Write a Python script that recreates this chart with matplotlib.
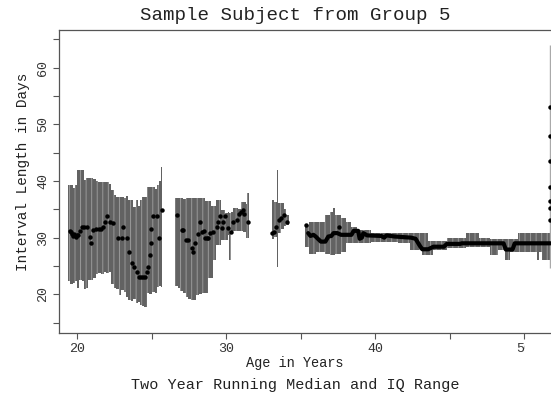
import matplotlib
matplotlib.use('Agg')
import matplotlib.pyplot as plt
from matplotlib.patches import Rectangle
from matplotlib.ticker import MultipleLocator

plt.rcParams['font.family'] = ['Liberation Mono', 'DejaVu Sans Mono']
plt.rcParams['hatch.linewidth'] = 0.7

# IQ range bars: start age, end age, lower quartile, upper quartile
iq_start = [19.42, 19.55, 19.70, 19.85, 20.00, 20.12, 20.30, 20.48, 20.62, 20.76,
            20.92, 21.10, 21.25, 21.42, 21.60, 21.78, 21.95, 22.12, 22.30, 22.45,
            22.60, 22.78, 22.95, 23.12, 23.30, 23.45, 23.62, 23.78, 23.92, 24.08,
            24.22, 24.36, 24.52, 24.68, 24.85, 25.02, 25.20, 25.38, 25.52, 25.62,
            26.55, 26.75, 26.92, 27.10, 27.28, 27.45, 27.62, 27.80, 27.98, 28.15,
            28.35, 28.55, 28.75, 28.95, 29.15, 29.30, 29.45, 29.62, 29.80, 29.95,
            30.10, 30.22, 30.30, 30.45, 30.62, 30.80, 30.98, 31.15, 31.30, 31.40,
            33.05, 33.22, 33.40, 33.48, 33.65, 33.85, 34.00,
            35.30, 35.55, 36.00, 36.60, 36.95, 37.15, 37.30, 37.70, 38.05, 38.40,
            38.75, 39.70, 41.50, 42.35, 43.10, 43.50, 43.90, 44.80, 46.05, 46.95,
            47.70, 48.20, 48.70, 49.06, 49.60, 50.85, 50.95, 51.20]
iq_end = [19.55, 19.70, 19.85, 20.00, 20.12, 20.30, 20.48, 20.62, 20.76, 20.92,
          21.10, 21.25, 21.42, 21.60, 21.78, 21.95, 22.12, 22.30, 22.45, 22.60,
          22.78, 22.95, 23.12, 23.30, 23.45, 23.62, 23.78, 23.92, 24.08, 24.22,
          24.36, 24.52, 24.68, 24.85, 25.02, 25.20, 25.38, 25.52, 25.62, 25.70,
          26.75, 26.92, 27.10, 27.28, 27.45, 27.62, 27.80, 27.98, 28.15, 28.35,
          28.55, 28.75, 28.95, 29.15, 29.30, 29.45, 29.62, 29.80, 29.95, 30.10,
          30.22, 30.30, 30.45, 30.62, 30.80, 30.98, 31.15, 31.30, 31.40, 31.50,
          33.22, 33.40, 33.48, 33.65, 33.85, 34.00, 34.18,
          35.55, 36.00, 36.60, 36.95, 37.15, 37.30, 37.70, 38.05, 38.40, 38.75,
          39.70, 41.50, 42.35, 43.10, 43.50, 43.90, 44.80, 46.05, 46.95, 47.70,
          48.20, 48.70, 49.06, 49.60, 50.85, 50.95, 51.20, 51.80]
iq_low = [22.3, 21.9, 22.0, 22.4, 21.2, 22.5, 22.3, 21.0, 21.1, 22.5,
          22.6, 22.8, 23.5, 23.8, 23.6, 23.9, 23.8, 23.9, 21.8, 21.1,
          20.9, 19.9, 20.8, 20.4, 19.6, 19.0, 18.8, 19.2, 18.5, 18.6,
          18.2, 17.9, 17.8, 20.2, 20.0, 20.4, 20.3, 21.3, 21.5, 21.3,
          21.4, 21.1, 20.5, 20.2, 19.6, 19.2, 19.0, 19.0, 19.8, 20.0,
          20.3, 20.2, 22.8, 22.8, 26.1, 28.7, 28.7, 29.6, 29.6, 29.6,
          30.5, 26.1, 31.0, 31.1, 31.1, 31.1, 31.1, 31.0, 29.9, 29.9,
          29.8, 30.2, 24.9, 30.8, 31.5, 32.0, 32.3,
          28.4, 27.2, 27.5, 27.2, 27.0, 27.0, 27.2, 27.5, 29.0, 29.0,
          29.0, 29.3, 29.0, 27.8, 26.9, 26.9, 27.8, 28.2, 28.4, 28.4,
          26.9, 27.8, 26.1, 27.5, 27.5, 26.0, 27.5, 26.1]
iq_high = [39.3, 39.3, 38.8, 39.3, 41.9, 42.0, 41.9, 40.2, 40.5, 40.6,
           40.5, 40.3, 40.0, 39.9, 39.9, 39.9, 39.9, 39.4, 38.4, 37.6,
           37.2, 37.2, 37.2, 37.0, 37.3, 36.6, 36.6, 35.4, 36.6, 35.6,
           36.6, 37.2, 37.2, 38.9, 38.9, 38.9, 38.5, 39.3, 40.0, 42.4,
           37.0, 37.0, 37.0, 36.9, 37.0, 37.0, 37.0, 37.0, 37.0, 37.0,
           37.0, 36.4, 36.4, 35.5, 35.5, 36.7, 36.7, 34.9, 34.9, 34.3,
           34.6, 34.3, 34.6, 35.2, 35.2, 35.0, 36.3, 36.3, 36.0, 37.8,
           36.7, 36.3, 41.9, 36.1, 36.1, 35.0, 34.0,
           32.2, 32.8, 32.8, 34.0, 34.6, 35.2, 34.0, 33.4, 32.8, 31.9,
           31.4, 30.9, 30.9, 30.9, 30.9, 29.4, 29.4, 29.9, 30.9, 29.9,
           29.7, 29.7, 29.7, 29.7, 30.9, 30.9, 30.9, 30.9]

# last observation at the right edge: a single very wide IQ range
edge_age = 51.72
edge_low = 24.7
edge_high = 64.0

# running medians shown as separate dots
dot_age = [19.50, 19.58, 19.65, 19.75, 19.82, 19.90, 20.00, 20.09, 20.20, 20.31,
           20.45, 20.65, 20.87, 20.92, 21.10, 21.30, 21.45, 21.60, 21.77, 21.90,
           22.00, 22.20, 22.44, 22.77, 23.00, 23.10, 23.33, 23.50, 23.67, 23.83,
           24.00, 24.18, 24.30, 24.42, 24.56, 24.72, 24.79, 24.90, 24.94, 24.97,
           25.12, 25.35, 25.52, 25.68,
           26.67, 27.02, 27.13, 27.32, 27.47, 27.70, 27.76, 27.92, 28.14, 28.25,
           28.36, 28.48, 28.59, 28.70, 28.81, 28.92, 29.15, 29.37, 29.48, 29.60,
           29.70, 29.82, 29.93, 30.15, 30.31, 30.49, 30.71, 30.83, 30.98, 31.12,
           31.20, 31.43,
           33.07, 33.22, 33.36, 33.51, 33.67, 33.85, 34.07,
           35.35, 37.55,
           51.72, 51.72, 51.72, 51.72, 51.72, 51.72, 51.72]
dot_med = [31.1, 31.0, 30.6, 30.3, 30.6, 30.2, 30.4, 30.5, 31.2, 31.8,
           31.9, 31.9, 30.1, 29.0, 31.4, 31.5, 31.5, 31.6, 31.8, 32.8,
           33.8, 32.8, 32.5, 29.9, 29.9, 31.9, 29.9, 27.4, 25.5, 24.9,
           24.0, 23.0, 23.0, 23.0, 23.0, 24.0, 24.9, 26.9, 29.0, 31.5,
           33.8, 33.8, 29.9, 34.9,
           34.0, 31.4, 31.4, 29.6, 29.5, 28.1, 27.5, 29.0, 30.7, 32.8,
           31.0, 31.2, 29.9, 29.9, 29.9, 30.9, 31.0, 31.9, 32.8, 33.8,
           31.7, 32.8, 33.8, 31.7, 31.0, 32.8, 33.1, 34.2, 34.5, 34.8,
           34.2, 32.8,
           30.9, 31.0, 31.9, 33.1, 33.4, 34.0, 32.8,
           32.3, 31.9,
           33.1, 35.3, 36.5, 38.9, 43.5, 47.9, 53.0]

# dense running median after age 35, drawn as a heavy line
line_age = [35.50, 35.65, 35.85, 36.00, 36.15, 36.35, 36.65, 36.85, 37.05, 37.20,
            37.45, 37.70, 38.40, 38.55, 38.85, 38.95, 39.10, 39.20, 39.45, 40.40,
            40.60, 40.75, 41.30, 42.40, 42.70, 43.00, 43.15, 43.55, 43.90, 44.60,
            44.80, 45.70, 45.80, 48.60, 48.75, 49.20, 49.35, 51.75]
line_med = [30.8, 30.3, 30.5, 30.2, 29.8, 29.3, 29.3, 30.2, 30.3, 30.8,
            30.8, 30.5, 30.5, 31.2, 31.2, 29.8, 30.0, 30.8, 30.4, 30.3,
            30.0, 30.4, 30.2, 30.0, 29.8, 28.5, 27.95, 27.95, 28.4, 28.4,
            28.9, 28.9, 29.0, 29.0, 27.9, 27.9, 29.0, 29.0]

fig = plt.figure(figsize=(5.51, 3.95), dpi=100)
ax = fig.add_axes([59 / 551, 62 / 395, 540 / 551, 303 / 395])

widths = [e - s for s, e in zip(iq_start, iq_end)]
heights = [h - l for l, h in zip(iq_low, iq_high)]
ax.bar(iq_start, heights, width=widths, bottom=iq_low, align='edge',
       color='#626262', edgecolor='#999999', linewidth=0, hatch='|||')
ax.vlines(edge_age, edge_low, edge_high, color='#aaaaaa', lw=1.0)

ax.plot(line_age, line_med, color='black', lw=3.0, solid_capstyle='round',
        solid_joinstyle='round')
ax.plot(dot_age, dot_med, 'o', color='black', ms=3.2, mew=0)

ax.set_xlim(18.79, 55)
ax.set_ylim(13.17, 66.65)
ax.xaxis.set_major_locator(MultipleLocator(10))
ax.xaxis.set_minor_locator(MultipleLocator(5))
ax.yaxis.set_major_locator(MultipleLocator(10))
ax.yaxis.set_minor_locator(MultipleLocator(5))
ax.tick_params(which='both', direction='out', length=4, width=0.8, color='#555555',
               labelsize=9.6, pad=3, labelcolor='#333333')
ax.tick_params(axis='y', labelrotation=90)
for lab in ax.get_yticklabels():
    lab.set_verticalalignment('center')
for side in ['left', 'bottom', 'top']:
    ax.spines[side].set_color('#555555')
    ax.spines[side].set_linewidth(0.9)
ax.spines['right'].set_visible(False)

# the right edge of the source image cuts through the "50" tick label
fig.patches.append(Rectangle((525 / 551, 0), 26 / 551, 52 / 395, transform=fig.transFigure,
                             facecolor='white', edgecolor='none', zorder=10))

txt = dict(ha='center', va='center', color='#222222')
fig.text(295 / 551, 1 - 15 / 395, 'Sample Subject from Group 5', fontsize=13.8, **txt)
fig.text(295 / 551, 1 - 363 / 395, 'Age in Years', fontsize=9.8, **txt)
fig.text(295 / 551, 1 - 385 / 395, 'Two Year Running Median and IQ Range', fontsize=10.9, **txt)
fig.text(23 / 551, 1 - 172 / 395, 'Interval Length in Days', rotation=90, fontsize=10.4, **txt)

fig.savefig('out.png', dpi=100)
